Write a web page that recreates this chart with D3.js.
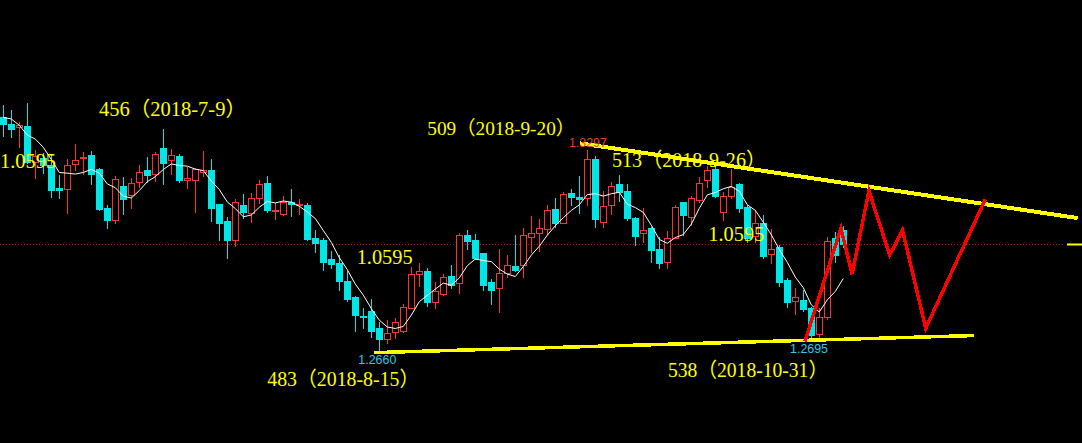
<!DOCTYPE html>
<html><head><meta charset="utf-8">
<script src="https://cdn.jsdelivr.net/npm/d3@7"></script>
<style>html,body{margin:0;padding:0;background:#000;overflow:hidden}</style>
</head><body>
<script>
// ---- data ----
const opens  = [1.3400,1.3379,1.3369,1.3373,1.3260,1.3271,1.3250,1.3176,1.3175,1.3252,1.3273,1.3281,1.3237,1.3113,1.3077,1.3183,1.3155,1.3195,1.3234,1.3220,1.3303,1.3264,1.3277,1.3203,1.3203,1.3227,1.3234,1.3126,1.3073,1.3014,1.3123,1.3099,1.3144,1.3193,1.3105,1.3094,1.3133,1.3123,1.3123,1.3019,1.3013,1.2953,1.2941,1.2884,1.2834,1.2774,1.2789,1.2735,1.2701,1.2721,1.2724,1.2799,1.2906,1.2915,1.2818,1.2841,1.2899,1.2878,1.3029,1.3013,1.2972,1.2881,1.2862,1.2908,1.2931,1.2934,1.3023,1.3034,1.3047,1.3111,1.3068,1.3162,1.3149,1.3144,1.3269,1.3069,1.3123,1.3190,1.3168,1.3081,1.3034,1.3050,1.2984,1.2942,1.3020,1.3133,1.3086,1.3139,1.3201,1.3237,1.3100,1.3153,1.3190,1.3117,1.3026,1.3065,1.2968,1.2990,1.2886,1.2819,1.2823,1.2799,1.2715,1.2769,1.3019,1.3044];
const highs  = [1.3439,1.3423,1.3386,1.3444,1.3297,1.3286,1.3281,1.3218,1.3268,1.3315,1.3292,1.3294,1.3239,1.3123,1.3215,1.3211,1.3210,1.3250,1.3274,1.3292,1.3363,1.3300,1.3283,1.3244,1.3239,1.3294,1.3269,1.3127,1.3086,1.3141,1.3158,1.3160,1.3202,1.3215,1.3129,1.3153,1.3174,1.3141,1.3131,1.3044,1.3018,1.2978,1.2965,1.2916,1.2835,1.2799,1.2826,1.2755,1.2760,1.2765,1.2810,1.2928,1.2939,1.2923,1.2881,1.2905,1.2934,1.3036,1.3044,1.3031,1.2972,1.2889,1.2984,1.2965,1.3029,1.3052,1.3089,1.3079,1.3123,1.3144,1.3165,1.3173,1.3215,1.3297,1.3278,1.3168,1.3195,1.3218,1.3189,1.3086,1.3113,1.3055,1.3023,1.3041,1.3123,1.3134,1.3152,1.3213,1.3248,1.3253,1.3165,1.3237,1.3192,1.3123,1.3108,1.3092,1.3048,1.2997,1.2894,1.2860,1.2855,1.2802,1.2797,1.3023,1.3038,1.3057];
const lows   = [1.3342,1.3339,1.3307,1.3255,1.3208,1.3223,1.3150,1.3146,1.3099,1.3234,1.3220,1.3191,1.3106,1.3050,1.3068,1.3094,1.3115,1.3181,1.3195,1.3199,1.3190,1.3222,1.3197,1.3178,1.3102,1.3215,1.3073,1.3013,1.2957,1.2995,1.3083,1.3071,1.3129,1.3102,1.3079,1.3092,1.3090,1.3094,1.3012,1.2976,1.2919,1.2923,1.2855,1.2821,1.2726,1.2734,1.2706,1.2660,1.2686,1.2702,1.2723,1.2797,1.2869,1.2805,1.2799,1.2839,1.2862,1.2846,1.2984,1.2953,1.2855,1.2811,1.2786,1.2897,1.2916,1.2897,1.2976,1.2978,1.3031,1.3055,1.3065,1.3123,1.3097,1.3123,1.3055,1.3055,1.3095,1.3136,1.3076,1.2997,1.3008,1.2942,1.2925,1.2923,1.3018,1.3029,1.3060,1.3134,1.3181,1.3150,1.3076,1.3144,1.3100,1.3008,1.3008,1.2955,1.2939,1.2869,1.2802,1.2779,1.2789,1.2695,1.2702,1.2763,1.2943,1.2992];
const closes = [1.3379,1.3364,1.3376,1.3260,1.3278,1.3250,1.3171,1.3171,1.3249,1.3264,1.3275,1.3222,1.3111,1.3077,1.3204,1.3143,1.3192,1.3228,1.3218,1.3283,1.3256,1.3280,1.3203,1.3208,1.3236,1.3233,1.3115,1.3068,1.3013,1.3132,1.3102,1.3144,1.3189,1.3107,1.3107,1.3133,1.3125,1.3125,1.3016,1.3004,1.2944,1.2938,1.2884,1.2826,1.2776,1.2769,1.2726,1.2701,1.2718,1.2753,1.2801,1.2904,1.2914,1.2818,1.2852,1.2895,1.2871,1.3029,1.3011,1.2957,1.2871,1.2855,1.2909,1.2934,1.2918,1.3029,1.3034,1.3051,1.3108,1.3066,1.3157,1.3148,1.3141,1.3269,1.3080,1.3120,1.3184,1.3165,1.3081,1.3026,1.3044,1.2981,1.2941,1.3020,1.3116,1.3092,1.3144,1.3192,1.3233,1.3153,1.3151,1.3181,1.3115,1.3020,1.3065,1.2963,1.2984,1.2881,1.2818,1.2832,1.2795,1.2713,1.2769,1.3010,1.2965,1.3000];
// closes before the first visible bar (estimated from the MA line start)
const priorCloses = [1.3389,1.3476,1.3415,1.3341];
const maPeriod = 5;

// trend lines and projected path: [bar index, price]
const upperTrend = [[72.1,1.3318],[134.3,1.3082]];
const lowerTrend = [[46.3,1.2657],[121.3,1.2711]];
const projection = [[100.2,1.2692],[104.7,1.3050],[106.1,1.2905],[108.2,1.3168],[110.8,1.2965],[112.4,1.3044],[115.3,1.2734],[122.75,1.3141]];

// annotations
const pivotLabels = ["456（2018-7-9）","509（2018-9-20）","513（2018-9-26）","483（2018-8-15）","538（2018-10-31）"];
const pivotAnchors = [[11.96,1.3403],[53.0,1.3344],[76.09,1.3244],[33.0,1.2552],[83.09,1.2580]];
const levelLabel = "1.0595";
const levelAnchors = [[-0.41,1.3239],[44.17,1.2937],[88.12,1.3010]];
const extremeLabels = ["1.3297","1.2660","1.2695"];
const extremeAnchors = [[70.7,1.3308],[44.38,1.2621],[98.34,1.2656]];

// ---- drawing ----
const W = 1082, H = 443;
const UP = "#ff3232", DOWN = "#00e6e6";
const svg = d3.select("body").append("svg").attr("width", W).attr("height", H);
svg.append("rect").attr("width", W).attr("height", H).attr("fill", "#000");

const x = d3.scaleLinear().domain([0, 105]).range([3.3, 843.3]);
const y = d3.scaleLinear().domain([1.2660, 1.3297]).range([351.7, 150]);

const bars = d3.range(closes.length).map(i => ({i, o: opens[i], h: highs[i], l: lows[i], c: closes[i]}));

// last price dotted line + marker
const lastY = Math.round(y(closes[closes.length - 1])) + 0.5;
svg.append("line").attr("x1", 0).attr("x2", 1064).attr("y1", lastY).attr("y2", lastY)
  .attr("stroke", "#a01818").attr("stroke-width", 1).attr("stroke-dasharray", "1,2");
svg.append("line").attr("x1", 1067).attr("x2", 1082).attr("y1", lastY).attr("y2", lastY)
  .attr("stroke", "#ffff00").attr("stroke-width", 2);

const g = svg.append("g").attr("shape-rendering", "crispEdges");
bars.forEach(b => {
  const cx = Math.round(x(b.i));
  const up = b.c >= b.o;
  const col = up ? UP : DOWN;
  const top = Math.round(y(Math.max(b.o, b.c)));
  const bot = Math.round(y(Math.min(b.o, b.c)));
  g.append("line").attr("x1", cx + 0.5).attr("x2", cx + 0.5)
    .attr("y1", Math.round(y(b.h))).attr("y2", Math.round(y(b.l)) + 1)
    .attr("stroke", col).attr("stroke-width", 1);
  if (up) {
    g.append("rect").attr("x", cx - 3 + 0.5).attr("y", top + 0.5)
      .attr("width", 6).attr("height", Math.max(1, bot - top))
      .attr("fill", "#000").attr("stroke", col).attr("stroke-width", 1);
  } else {
    g.append("rect").attr("x", cx - 3).attr("y", top)
      .attr("width", 7).attr("height", Math.max(1, bot - top + 1))
      .attr("fill", col);
  }
});

// MA5
const allCloses = priorCloses.concat(closes);
const ma = closes.map((c, i) => d3.mean(allCloses.slice(i + priorCloses.length - maPeriod + 1, i + priorCloses.length + 1)));
svg.append("path").datum(ma)
  .attr("d", d3.line().x((d, i) => x(i)).y(d => y(d)))
  .attr("fill", "none").attr("stroke", "#ffffff").attr("stroke-width", 1);

// trend lines
const pl = d3.line().x(d => x(d[0])).y(d => y(d[1]));
svg.append("path").datum(upperTrend).attr("d", pl).attr("fill", "none")
  .attr("stroke", "#ffff00").attr("stroke-width", 4).attr("shape-rendering", "crispEdges");
svg.append("path").datum(lowerTrend).attr("d", pl).attr("fill", "none")
  .attr("stroke", "#ffff00").attr("stroke-width", 3.5).attr("shape-rendering", "crispEdges");
svg.append("path").datum(projection).attr("d", pl).attr("fill", "none")
  .attr("stroke", "#ff0000").attr("stroke-width", 3.5).attr("stroke-linejoin", "miter")
  .attr("shape-rendering", "crispEdges");

// labels
const fontBig = "'Liberation Serif','Noto Sans CJK SC',serif";
const bigSizes = [20.5, 19.3, 20.5, 20.5, 20.5];
const bigLens = [147, null, 154, 152, 160];
pivotLabels.forEach((t, k) => {
  const tx = svg.append("text").attr("x", x(pivotAnchors[k][0])).attr("y", y(pivotAnchors[k][1]))
    .attr("fill", "#ffff00").attr("font-family", fontBig).attr("font-size", bigSizes[k]).text(t);
  if (bigLens[k]) tx.attr("textLength", bigLens[k]).attr("lengthAdjust", "spacingAndGlyphs");
});
levelAnchors.forEach(a => {
  svg.append("text").attr("x", x(a[0])).attr("y", y(a[1]))
    .attr("fill", "#ffff00").attr("font-family", fontBig).attr("font-size", 20.5)
    .attr("textLength", 56).attr("lengthAdjust", "spacingAndGlyphs").text(levelLabel);
});
const extremeColors = ["#e83c3c", "#30c8ee", "#30c8ee"];
extremeLabels.forEach((t, k) => {
  svg.append("text").attr("x", x(extremeAnchors[k][0])).attr("y", y(extremeAnchors[k][1]))
    .attr("fill", extremeColors[k]).attr("font-family", "'Liberation Sans',sans-serif").attr("font-size", 13)
    .attr("textLength", 38).attr("lengthAdjust", "spacingAndGlyphs").text(t);
});
</script>
</body></html>
